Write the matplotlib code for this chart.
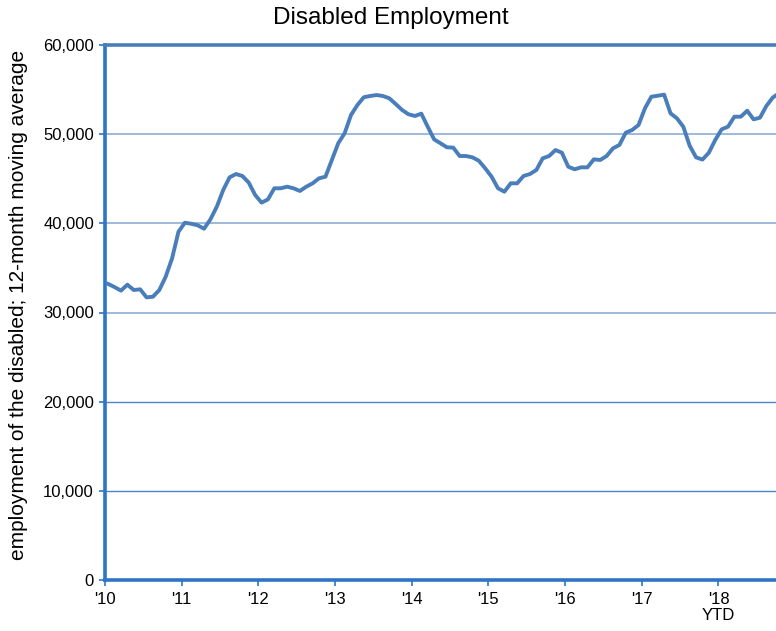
import matplotlib
matplotlib.use("Agg")
import matplotlib.pyplot as plt
from matplotlib.ticker import FuncFormatter

plt.rcParams['font.family'] = ['Liberation Sans', 'DejaVu Sans']

# Monthly 12-month moving average, Jan 2010 onward
values = [
    33200, 32850, 32450, 33120, 32520, 32600, 31700, 31770, 32520, 34020,
    36080, 39060, 40070, 39950, 39780, 39400, 40450, 41870, 43740, 45160,
    45530, 45310, 44560, 43180, 42320, 42690, 43930, 43930, 44110, 43930,
    43630, 44110, 44490, 45050, 45230, 47100, 48980, 50100, 52150, 53270,
    54140, 54280, 54390, 54280, 54020, 53380, 52710, 52230, 52040, 52300,
    50840, 49420, 48980, 48530, 48490, 47550, 47550, 47400, 47020, 46170,
    45230, 43930, 43550, 44490, 44490, 45310, 45530, 45980, 47290, 47550,
    48220, 47920, 46350, 46060, 46280, 46280, 47180, 47100, 47550, 48410,
    48790, 50170, 50470, 51030, 52900, 54200, 54310, 54430, 52340, 51780,
    50840, 48700, 47400, 47150, 47920, 49350, 50540, 50840, 51960, 51960,
    52630, 51660, 51850, 53160, 54100, 54600,
]
year_labels = ["'10", "'11", "'12", "'13", "'14", "'15", "'16", "'17", "'18\nYTD"]
y_ticks = [0, 10000, 20000, 30000, 40000, 50000, 60000]

W, H = 776, 631
fig = plt.figure(figsize=(W / 100, H / 100), dpi=100)
px = 6.39  # pixels per month
n_months = 108
left_px, top_px, bottom_px = 105, 45, 580
ax = fig.add_axes([left_px / W, (H - bottom_px) / H,
                   n_months * px / W, (bottom_px - top_px) / H])

xs = [i + 0.5 for i in range(len(values))]
ax.plot(xs, values, color='#4A7EBB', lw=2.8, solid_joinstyle='round', zorder=3)

ax.set_xlim(0, n_months)
ax.set_ylim(0, 60000)
ax.set_yticks(y_ticks)
ax.yaxis.set_major_formatter(FuncFormatter(lambda v, p: f"{int(v):,}"))
ax.set_xticks([12 * k for k in range(len(year_labels))])
ax.set_xticklabels(year_labels)

# gridlines
for v in y_ticks[1:-1]:
    col = '#4A86C8' if v <= 20000 else '#95B3D7'
    lw = 1.0 if v <= 20000 else 1.3
    ax.axhline(v, color=col, lw=lw, zorder=1)

for s in ['left', 'bottom']:
    ax.spines[s].set_color('#2E75C6')
    ax.spines[s].set_linewidth(2.6)
ax.spines['top'].set_color('#4A7EBB')
ax.spines['top'].set_linewidth(2.6)
ax.spines['right'].set_visible(False)

ax.tick_params(axis='both', colors='#2E75C6', length=4, width=1.2,
               labelcolor='black', labelsize=12)
ax.tick_params(axis='x', pad=5)
ax.tick_params(axis='y', pad=4)
for lab in ax.get_xticklabels():
    lab.set_linespacing(1.05)

fig.text(391 / W, 1 - 18 / H, 'Disabled Employment', ha='center', va='center',
         fontsize=17.5)
fig.text(19 / W, 1 - 305 / H, 'employment of the disabled; 12-month moving average',
         rotation=90, ha='center', va='center', fontsize=15)

fig.savefig('out.png', dpi=100)
